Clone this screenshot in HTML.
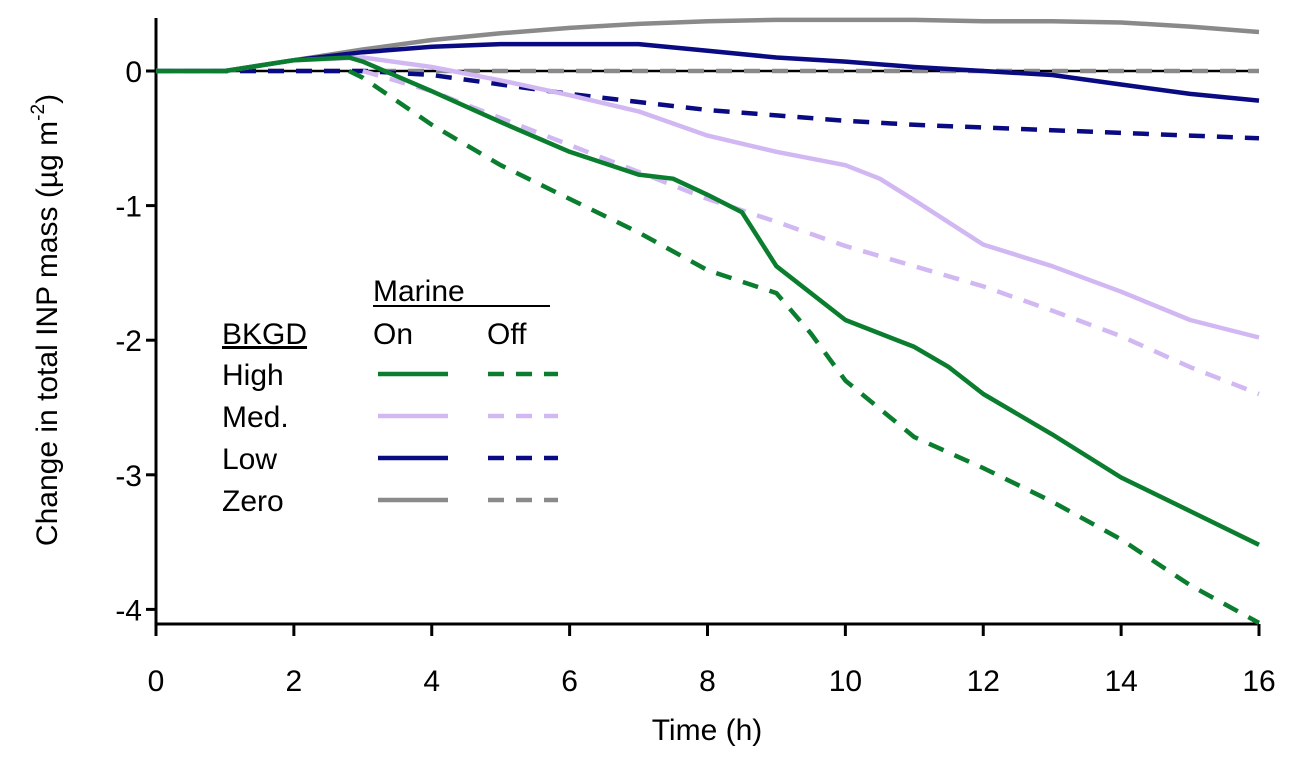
<!DOCTYPE html>
<html><head><meta charset="utf-8"><style>
body{margin:0;background:#fff;}
svg text{font-family:"Liberation Sans",Arial,sans-serif;fill:#000;}
</style></head><body>
<svg id="chart" width="1298" height="768">
<g id="axes"></g><g id="series"></g><g id="legend"></g>
</svg>
<script>
const xTicks=[0,2,4,6,8,10,12,14,16];
const yTicks=[0,-1,-2,-3,-4];
const seriesNames=["High","Med.","Low","Zero"];
const seriesColors=["#0a7d2e","#d2b8f2","#0a0a82","#8a8a8a"];
const highOnT=[0,1,2,2.8,3,4,5,6,7,7.5,8,8.5,9,10,11,11.5,12,13,14,15,16];
const highOnV=[0,0,0.08,0.1,0.07,-0.15,-0.38,-0.6,-0.77,-0.8,-0.92,-1.05,-1.45,-1.85,-2.05,-2.2,-2.4,-2.7,-3.02,-3.27,-3.52];
const highOffT=[2.8,3,4,5,6,7,8,9,9.5,10,11,12,13,14,15,16];
const highOffV=[0,-0.05,-0.4,-0.7,-0.95,-1.2,-1.48,-1.65,-1.95,-2.3,-2.72,-2.95,-3.2,-3.48,-3.82,-4.1];
const medOnT=[0,1,2,3,4,5,6,7,8,9,10,10.5,11,12,13,14,15,16];
const medOnV=[0,0,0.08,0.1,0.03,-0.07,-0.18,-0.3,-0.48,-0.6,-0.7,-0.8,-0.96,-1.29,-1.45,-1.64,-1.85,-1.98];
const medOffT=[3,4,5,6,7,8,9,10,11,12,13,14,15,16];
const medOffV=[0,-0.15,-0.35,-0.55,-0.75,-0.95,-1.12,-1.3,-1.45,-1.6,-1.78,-1.97,-2.2,-2.4];
const lowOnT=[0,1,2,3,4,5,6,7,8,9,10,11,12,13,14,15,16];
const lowOnV=[0,0,0.08,0.14,0.18,0.2,0.2,0.2,0.15,0.1,0.07,0.03,0,-0.03,-0.1,-0.17,-0.22];
const lowOffT=[0,3,4,5,6,7,8,9,10,11,12,13,14,15,16];
const lowOffV=[0,0,-0.03,-0.1,-0.17,-0.23,-0.29,-0.33,-0.37,-0.4,-0.42,-0.44,-0.46,-0.48,-0.5];
const zeroOnT=[0,1,2,3,4,5,6,7,8,9,10,11,12,13,14,15,16];
const zeroOnV=[0,0,0.08,0.16,0.23,0.28,0.32,0.35,0.37,0.38,0.38,0.38,0.37,0.37,0.36,0.33,0.29];
const zeroOffT=[0,16];
const zeroOffV=[0,0];

const NS="http://www.w3.org/2000/svg";
const X0=156,X1=1259,Y0=71,YPU=134.6;
function xs(t){return X0+(X1-X0)*t/16;}
function ys(v){return Y0-v*YPU;}
function mk(tag,attrs,parent){const e=document.createElementNS(NS,tag);for(const k in attrs)e.setAttribute(k,attrs[k]);parent.appendChild(e);return e;}
const axes=document.getElementById('axes'),ser=document.getElementById('series'),leg=document.getElementById('legend');
const FS=30;

let ln=mk('line',{x1:X0,y1:18,x2:X0,y2:624,stroke:'#000','stroke-width':3},axes);


ln=mk('line',{x1:X0,y1:624,x2:X1,y2:624,stroke:'#000','stroke-width':3},axes);


ln=mk('line',{x1:X0,y1:ys(0),x2:X1,y2:ys(0),stroke:'#000','stroke-width':2.5},axes);


xTicks.forEach(t=>{
  const tk=mk('line',{x1:xs(t),y1:624,x2:xs(t),y2:636,stroke:'#000','stroke-width':3},axes);
  
  
  const tx=mk('text',{x:xs(t),y:691,'font-size':FS,'text-anchor':'middle'},axes);tx.textContent=t;
  
  
});
yTicks.forEach(v=>{
  const tk=mk('line',{x1:X0-10,y1:ys(v),x2:X0,y2:ys(v),stroke:'#000','stroke-width':3},axes);
  
  
  const tx=mk('text',{x:X0-14,y:ys(v)+11,'font-size':FS,'text-anchor':'end'},axes);tx.textContent=v;
  
  
});
let tt=mk('text',{x:707,y:740,'font-size':FS,'text-anchor':'middle'},axes);tt.textContent='Time (h)';


tt=mk('text',{x:0,y:0,'font-size':FS,'text-anchor':'middle',transform:'translate(57,320) rotate(-90)'},axes);
tt.innerHTML='Change in total INP mass (µg m<tspan dy="-13" font-size="19">-2</tspan><tspan dy="13">)</tspan>';



const all=[[zeroOnT,zeroOnV,3,false,'zero-on'],[zeroOffT,zeroOffV,3,true,'zero-off'],[lowOnT,lowOnV,2,false,'low-on'],[lowOffT,lowOffV,2,true,'low-off'],[medOnT,medOnV,1,false,'med-on'],[medOffT,medOffV,1,true,'med-off'],[highOnT,highOnV,0,false,'high-on'],[highOffT,highOffV,0,true,'high-off']];
all.forEach(s=>{
  const d=s[0].map((t,i)=>(i?'L':'M')+xs(t).toFixed(1)+','+ys(s[1][i]).toFixed(1)).join(' ');
  const p=mk('path',{d:d,fill:'none',stroke:seriesColors[s[2]],'stroke-width':4.5,'stroke-linejoin':'round'},ser);
  if(s[3])p.setAttribute('stroke-dasharray','16,12');
  
  
});

function txt(x,y,s,name,ul){const t=mk('text',{x:x,y:y,'font-size':FS},leg);t.textContent=s;if(ul)t.setAttribute('text-decoration','underline');
  
  return t;}
txt(373,301,'Marine','legend-marine-header',false);
mk('line',{x1:373,y1:306,x2:550,y2:306,stroke:'#000','stroke-width':2},leg);
txt(222,344,'BKGD','legend-bkgd-header',true);
txt(373,344,'On','legend-on-header',false);
txt(487,344,'Off','legend-off-header',false);
const rowY=[374,416,458,500];
seriesNames.forEach((n,i)=>{
  txt(222,rowY[i]+11,n,'legend-label-'+i,false);
  const a=mk('line',{x1:378,y1:rowY[i],x2:448,y2:rowY[i],stroke:seriesColors[i],'stroke-width':4.5},leg);
  
  
  const b=mk('line',{x1:488,y1:rowY[i],x2:558,y2:rowY[i],stroke:seriesColors[i],'stroke-width':4.5,'stroke-dasharray':'16,12'},leg);
  
  
});
</script>
</body></html>
